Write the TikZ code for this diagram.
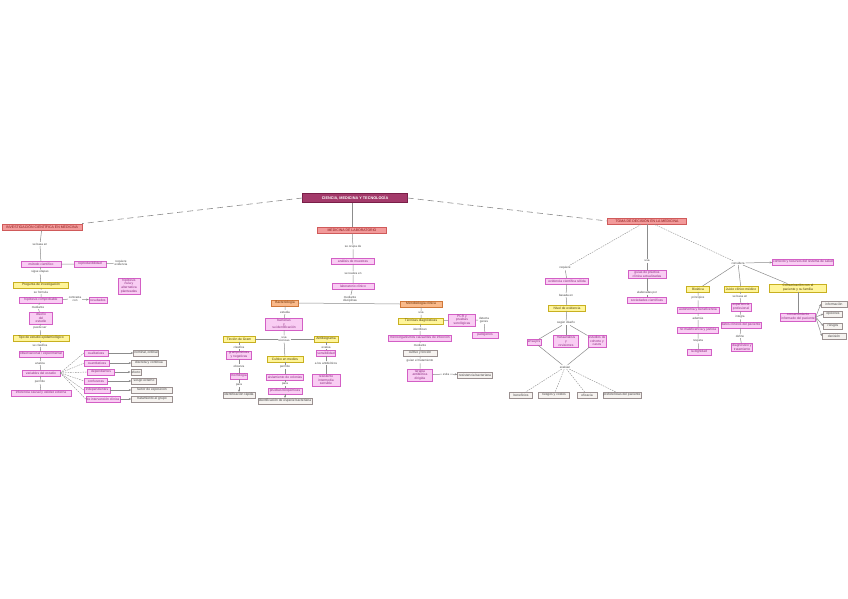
\documentclass[tikz,border=0pt]{standalone}
\usepackage{fontspec}
\setmainfont{Liberation Sans}
\usetikzlibrary{arrows.meta}
\definecolor{pkf}{HTML}{F9CDF3}
\definecolor{pkd}{HTML}{D35FC5}
\definecolor{pkt}{HTML}{8A2A7E}
\definecolor{ylf}{HTML}{FFF59A}
\definecolor{yld}{HTML}{C8B020}
\definecolor{ylt}{HTML}{4A3C00}
\definecolor{orf}{HTML}{F9B98A}
\definecolor{ord}{HTML}{D0783A}
\definecolor{ort}{HTML}{6A2E00}
\definecolor{hdf}{HTML}{F29A9A}
\definecolor{hdd}{HTML}{D05A5A}
\definecolor{hdt}{HTML}{8A1A1A}
\definecolor{gyf}{HTML}{F6F3F0}
\definecolor{gyd}{HTML}{9A9090}
\definecolor{gyt}{HTML}{444444}
\definecolor{ttf}{HTML}{A33A6A}
\definecolor{ttd}{HTML}{7A1E48}
\definecolor{lnc}{HTML}{8C8C8C}
\tikzset{
  base/.style={font=\fontsize{3.3}{3.8}\selectfont, inner sep=0.8pt, align=center, minimum height=5.5pt},
  pk/.style={base, draw=pkd, fill=pkf, text=pkt, line width=0.4pt},
  yl/.style={base, draw=yld, fill=ylf, text=ylt, line width=0.4pt},
  orb/.style={base, draw=ord, fill=orf, text=ort, line width=0.4pt},
  hd/.style={base, draw=hdd, fill=hdf, text=hdt, line width=0.4pt, font=\fontsize{3.5}{4}\selectfont, minimum height=6.5pt},
  gy/.style={base, draw=gyd, fill=gyf, text=gyt, line width=0.4pt},
  lb/.style={font=\fontsize{3}{3.4}\selectfont, inner sep=0.8pt, align=center, text=gray!55!black},
  ttl/.style={draw=ttd, fill=ttf, text=white, font=\bfseries\fontsize{3.8}{4}\selectfont, inner sep=1pt, minimum height=9pt, minimum width=105pt},
  ln/.style={draw=lnc, line width=0.5pt},
  dl/.style={draw=lnc, line width=0.6pt, dash pattern=on 6pt off 4pt},
  ds/.style={draw=lnc, line width=0.4pt, dash pattern=on 1.5pt off 1pt},
  ar/.style={ln, -{Stealth[length=2.5pt,width=2pt]}},
}
\begin{document}
\begin{tikzpicture}[x=1pt,y=-1pt]
\useasboundingbox[fill=white] (0,0) rectangle (848,599);
% title
\node[ttl] (T) at (355,198) {CIENCIA, MEDICINA Y TECNOLOGÍA};
% headings
\node[hd, minimum width=80] (L0) at (42,227) {INVESTIGACIÓN CIENTÍFICA EN MEDICINA};
\node[hd, minimum width=69] (M0) at (352,230) {MEDICINA DE LABORATORIO};
\node[hd, minimum width=79] (R0) at (647,221) {TOMA DE DECISIÓN EN LA MEDICINA};
\draw[dl] (T.west) -- (L0.north east);
\draw[dl] (T.east) -- (R0.west);
\draw[ln, line width=0.8pt] (M0) -- (M0 |- T.south);

% ================= LEFT =================
\node[lb] (l1) at (40,244) {se basa en};
\node[pk, minimum width=40] (L1) at (41,264) {método científico};
\node[pk, minimum width=32] (L1b) at (90,264) {reproducibilidad};
\node[lb] (l1c) at (121,263) {requiere\\evidencia};
\node[lb] (l2) at (40,272) {sigue etapas};
\node[yl, minimum width=55] (L2) at (41,285) {Pregunta de investigación};
\node[pk, minimum width=22] (L2b) at (129,286) {hipótesis\\nula y\\alternativa\\planteadas};
\node[lb] (l3) at (41,292) {se formula};
\node[pk, minimum width=43] (L3) at (41,300) {hipótesis comprobable};
\node[lb] (l3b) at (75,299) {contrasta\\con};
\node[pk, minimum width=18] (L3c) at (98,300) {resultados};
\node[lb] (l4) at (38,307) {mediante};
\node[pk, minimum width=23] (L4) at (41,318) {diseño\\del\\estudio};
\node[lb] (l5) at (40,328) {puede ser};
\node[yl, minimum width=56] (L5) at (41,338) {Tipo de estudio epidemiológico};
\node[lb] (l6) at (40,345) {se clasifica};
\node[pk, minimum width=40] (L6) at (41,354) {observacional / experimental};
\node[lb] (l7) at (40,363) {analiza};
\node[pk, minimum width=38] (L7) at (41,373) {variables del estudio};
\node[lb] (l8) at (40,382) {permite};
\node[pk, minimum width=60] (L8) at (41,393) {inferencia causal y validez externa};
\draw[ln] (L0) -- (l1) -- (L1) -- (l2) -- (L2) -- (l3) -- (L3) -- (l4) -- (L4) -- (l5) -- (L5) -- (l6) -- (L6) -- (l7) -- (L7) -- (l8) -- (L8);
\draw[ln] (L1) -- (L1b) -- (l1c);
\draw[ln] (L3) -- (l3b);
\draw[ar] (l3b) -- (L3c);
\node[pk, minimum width=24] (P1) at (96,353) {cualitativas};
\node[pk, minimum width=25] (P2) at (97,363) {cuantitativas};
\node[pk, minimum width=27] (P3) at (101,372) {dependientes};
\node[pk, minimum width=23] (P4) at (96,381) {confusoras};
\node[pk, minimum width=26] (P5) at (97,390) {independientes};
\node[pk, minimum width=34] (P6) at (103,399) {de intervención clínica};
\node[gy, minimum width=25] (G1) at (146,353) {nominal, ordinal};
\node[gy, minimum width=35] (G2) at (149,363) {discreta y continua};
\node[gy, minimum width=8] (G3) at (136,372) {efecto};
\node[gy, minimum width=25] (G4) at (144,381) {sesgo externo};
\node[gy, minimum width=41] (G5) at (152,390) {factor de exposición};
\node[gy, minimum width=41] (G6) at (152,399) {tratamiento al grupo};
\foreach \i in {1,...,6}{
  \draw[ds] (L7.east) -- (P\i.west);
  \draw[ar] (P\i) -- (G\i);
}

% ================= MIDDLE =================
\node[lb] (m1) at (353,247) {se ocupa de};
\node[pk, minimum width=43] (M1) at (353,261) {análisis de muestras};
\node[lb] (m2) at (353,273) {se realiza en};
\node[pk, minimum width=42] (M2) at (353,286) {laboratorio clínico};
\node[lb] (m3) at (350,299) {mediante\\disciplinas};
\draw[ln] (M0) -- (m1) -- (M1) -- (m2) -- (M2) -- (m3);
\node[orb, minimum width=27] (M3L) at (285,303) {Bacteriología};
\node[orb, minimum width=42] (M3R) at (421,304) {Microbiología clínica};
\draw[ln] (M3L.east) -- (M3R.west);
% left sub
\node[lb] (m4) at (285,312) {estudia};
\node[pk, minimum width=37] (M4) at (284,324) {bacterias\\y\\su identificación};
\node[lb] (m5) at (284,339) {usa\\técnicas};
\draw[ln] (M3L) -- (m4) -- (M4) -- (m5);
\node[yl, minimum width=32] (Y1) at (239,339) {Tinción de Gram};
\node[yl, minimum width=36] (Y2) at (285,359) {Cultivo en medios};
\node[yl, minimum width=24] (Y3) at (326,339) {Antibiograma};
\draw[ln] (m5) -- (Y1);
\draw[ln] (m5) -- (Y3);
\draw[ln] (m5) -- (Y2);
\node[lb] (a1) at (239,347) {clasifica};
\node[pk, minimum width=25] (A1) at (239,355) {grampositivas\\y negativas};
\node[lb] (a2) at (239,366) {observa};
\node[pk, minimum width=17] (A2) at (239,376) {morfología};
\node[lb] (a3) at (239,385) {para};
\node[gy, minimum width=32] (A3) at (239,395) {identificación rápida};
\draw[ln] (Y1) -- (a1) -- (A1) -- (a2) -- (A2) -- (a3);
\draw[ar] (a3) -- (A3);
\node[lb] (b1) at (285,367) {permite};
\node[pk, minimum width=37] (B1) at (285,377) {aislamiento de colonias};
\node[lb] (b2) at (285,384) {para};
\node[pk, minimum width=34] (B2) at (285,391) {pruebas bioquímicas};
\node[gy, minimum width=49] (B3) at (285,401) {identificación de especie bacteriana};
\draw[ln] (Y2) -- (b1) -- (B1) -- (b2) -- (B2);
\draw[ar] (B2) -- (B3);
\node[lb] (c1) at (326,347) {evalúa};
\node[pk, minimum width=17] (C1) at (326,353) {sensibilidad};
\node[lb] (c2) at (326,363) {a los antibióticos};
\node[pk, minimum width=28] (C2) at (326,380) {resistente\\intermedia\\sensible};
\draw[ln] (Y3) -- (c1) -- (C1) -- (c2) -- (C2);
% right sub
\node[lb] (d1) at (421,313) {usa};
\node[yl, minimum width=45] (D1) at (421,321) {Técnicas diagnósticas};
\node[pk, minimum width=27] (D2) at (462,320) {PCR y\\pruebas\\serológicas};
\node[lb] (d3) at (484,320) {detecta\\genes};
\node[pk, minimum width=26] (D3) at (485,335) {patógenos};
\draw[ln] (M3R) -- (d1) -- (D1) -- (D2) -- (d3) -- (D3);
\node[lb] (d2) at (420,329) {identifican};
\node[pk, minimum width=63] (D4) at (420,338) {microorganismos causantes de infección};
\node[lb] (d4) at (420,345) {mediante};
\node[gy, minimum width=34] (D5) at (420,353) {cultivo y tinción};
\node[lb] (d5) at (420,361) {guían el tratamiento};
\node[pk, minimum width=25] (D6) at (420,375) {terapia\\antibiótica\\dirigida};
\node[lb] (d6) at (446,374) {evita};
\node[gy, minimum width=35] (D7) at (475,375) {resistencia bacteriana};
\draw[ln] (D1) -- (d2) -- (D4) -- (d4) -- (D5) -- (d5) -- (D6) -- (d6);
\draw[ar] (d6) -- (D7);

% ================= RIGHT =================
\node[lb] (r1) at (565,268) {requiere};
\node[pk, minimum width=43] (R1) at (567,281) {evidencia científica sólida};
\node[lb] (r2) at (566,295) {basada en};
\node[yl, minimum width=37] (R2) at (567,308) {Nivel de evidencia};
\node[lb] (r3) at (566,323) {según diseño};
\draw[ds] (R0) -- (r1);
\draw[ln] (r1) -- (R1) -- (r2) -- (R2) -- (r3);
\node[pk, minimum width=14] (R3a) at (534,342) {ensayos};
\node[pk, minimum width=25] (R3b) at (566,341) {metaanálisis\\y\\revisiones};
\node[pk, minimum width=18] (R3c) at (597,341) {estudios de\\cohorte y\\casos};
\draw[ln] (r3) -- (R3a);
\draw[ln] (r3) -- (R3b);
\draw[ln] (r3) -- (R3c);
\node[lb] (r4) at (565,367) {evalúan};
\draw[ln] (R3a) -- (r4);
\draw[ln] (R3c) -- (r4);
\node[gy, minimum width=23] (S1) at (521,395) {beneficios};
\node[gy, minimum width=31] (S2) at (554,395) {riesgos y costos};
\node[gy, minimum width=20] (S3) at (587,395) {eficacia};
\node[gy, minimum width=34] (S4) at (622,395) {preferencias del paciente};
\foreach \i in {1,...,4}{\draw[ds] (r4) -- (S\i);}
\node[lb] (r5) at (647,261) {usa};
\node[pk, minimum width=38] (R4) at (647,274) {guías de práctica\\clínica actualizadas};
\node[lb] (r6) at (647,293) {elaboradas por};
\node[pk, minimum width=39] (R5) at (647,300) {sociedades científicas};
\draw[ln] (R0) -- (r5) -- (R4) -- (r6) -- (R5);
\node[lb] (h) at (738,263) {considera};
\draw[ds] (R0) -- (h);
\node[pk, minimum width=61] (R6) at (803,262) {contexto y recursos del sistema de salud};
\draw[ar] (h) -- (R6);
\node[yl, minimum width=23] (Y4) at (698,289) {Bioética};
\node[yl, minimum width=34] (Y5) at (741,289) {Juicio clínico médico};
\node[yl, minimum width=57] (Y6) at (798,288) {Comunicación con el\\paciente y su familia};
\draw[ln] (h) -- (Y4);
\draw[ln] (h) -- (Y5);
\draw[ln] (h) -- (Y6);
\node[lb] (e1) at (698,298) {principios};
\node[pk, minimum width=42] (E1) at (698,310) {autonomía y beneficencia};
\node[lb] (e2) at (698,318) {además};
\node[pk, minimum width=41] (E2) at (698,330) {no maleficencia y justicia};
\node[lb] (e3) at (698,341) {respeta};
\node[pk, minimum width=24] (E3) at (699,352) {la dignidad};
\draw[ln] (Y4) -- (e1) -- (E1) -- (e2) -- (E2) -- (e3) -- (E3);
\node[lb] (f1) at (740,296) {se basa en};
\node[pk, minimum width=20] (F1) at (741,307) {experiencia\\profesional};
\node[lb] (f2) at (740,317) {integra};
\node[pk, minimum width=35] (F2) at (741,325) {datos clínicos del paciente};
\node[lb] (f3) at (740,336) {define};
\node[pk, minimum width=21] (F3) at (742,347) {diagnóstico y\\tratamiento};
\draw[ln] (Y5) -- (f1) -- (F1) -- (f2) -- (F2) -- (f3) -- (F3);
\node[pk, minimum width=31] (K) at (798,317) {consentimiento\\informado del paciente};
\draw[ln] (Y6) -- (K);
\node[gy, minimum width=26] (K1) at (834,304) {información};
\node[gy, minimum width=19] (K2) at (833,314) {opciones};
\node[gy, minimum width=19] (K3) at (833,326) {riesgos};
\node[gy, minimum width=24] (K4) at (834,336) {decisión};
\foreach \i in {1,...,4}{\draw[ar] (K.east) -- (K\i.west);}
\end{tikzpicture}
\end{document}
